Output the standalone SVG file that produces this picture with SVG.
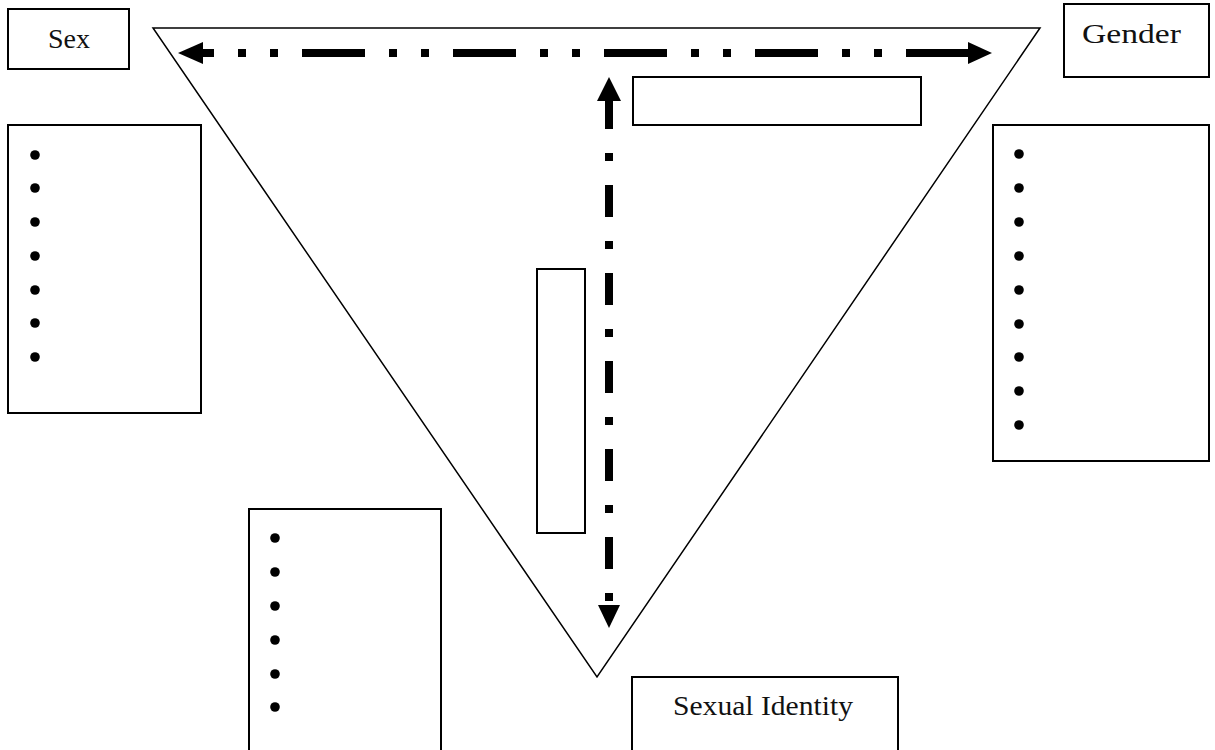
<svg xmlns="http://www.w3.org/2000/svg" width="1215" height="750" viewBox="0 0 1215 750">
<style>
.box{fill:#fff;stroke:#000;stroke-width:2}
.tri{fill:none;stroke:#000;stroke-width:1.5}
.lbl{font-family:"Liberation Serif",serif;font-size:28px;fill:#111}
.dot{fill:#000}
.conn{fill:none;stroke:#000;stroke-width:8}
</style>
<rect width="1215" height="750" fill="#fff"/>
<g id="triangle"><polygon class="tri" points="153,28 1040,28 597,677"/></g>
<g id="sex"><rect class="box" x="8" y="9" width="121" height="60"/><text class="lbl" x="48" y="48" textLength="42">Sex</text></g>
<g id="gender"><rect class="box" x="1064" y="4" width="145" height="73"/><text class="lbl" x="1082" y="43" textLength="99" lengthAdjust="spacingAndGlyphs">Gender</text></g>
<g id="sexual-identity"><rect class="box" x="632" y="677" width="266" height="80"/><text class="lbl" x="673" y="715" textLength="180" lengthAdjust="spacingAndGlyphs">Sexual Identity</text></g>
<g id="top-label"><rect class="box" x="633" y="77" width="288" height="48"/></g>
<g id="side-label"><rect class="box" x="537" y="269" width="48" height="264"/></g>
<g id="sex-list"><rect class="box" x="8" y="125" width="193" height="288"/>
<circle class="dot" cx="35" cy="155" r="4.8"/><circle class="dot" cx="35" cy="188" r="4.8"/><circle class="dot" cx="35" cy="222" r="4.8"/><circle class="dot" cx="35" cy="256" r="4.8"/><circle class="dot" cx="35" cy="290" r="4.8"/><circle class="dot" cx="35" cy="323" r="4.8"/><circle class="dot" cx="35" cy="357" r="4.8"/></g>
<g id="gender-list"><rect class="box" x="993" y="125" width="216" height="336"/>
<circle class="dot" cx="1019" cy="154" r="4.8"/><circle class="dot" cx="1019" cy="188" r="4.8"/><circle class="dot" cx="1019" cy="222" r="4.8"/><circle class="dot" cx="1019" cy="256" r="4.8"/><circle class="dot" cx="1019" cy="290" r="4.8"/><circle class="dot" cx="1019" cy="324" r="4.8"/><circle class="dot" cx="1019" cy="357" r="4.8"/><circle class="dot" cx="1019" cy="391" r="4.8"/><circle class="dot" cx="1019" cy="425" r="4.8"/></g>
<g id="identity-list"><rect class="box" x="249" y="509" width="192" height="250"/>
<circle class="dot" cx="275" cy="538" r="4.8"/><circle class="dot" cx="275" cy="572" r="4.8"/><circle class="dot" cx="275" cy="606" r="4.8"/><circle class="dot" cx="275" cy="640" r="4.8"/><circle class="dot" cx="275" cy="674" r="4.8"/><circle class="dot" cx="275" cy="707" r="4.8"/></g>
<g id="connectors">
<path class="conn" d="M200,53 H971" stroke-dasharray="63 24 8 24 8 24" stroke-dashoffset="49"/>
<polygon points="178,53 203,42 203,64"/>
<polygon points="992,53 968,42 968,64"/>
<path class="conn" d="M609,100 V606" stroke-dasharray="32 24 8 24" stroke-dashoffset="3"/>
<polygon points="609,77 597,101 621,101"/>
<polygon points="609,628 598,605 620,605"/>
</g>
</svg>
